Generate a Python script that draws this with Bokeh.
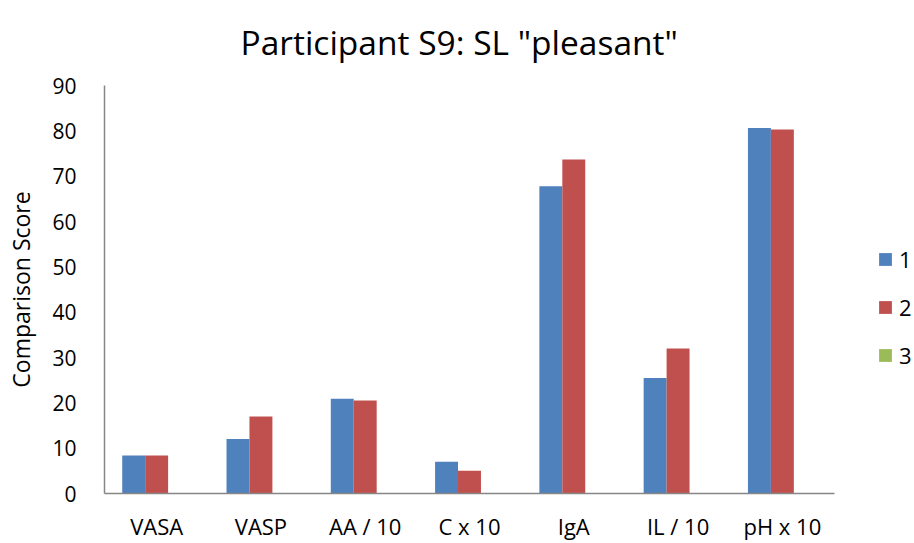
from bokeh.plotting import figure
from bokeh.models import Range1d, Legend, LegendItem, Title, FixedTicker, ColumnDataSource
from bokeh.transform import dodge
from bokeh.embed import file_html
from bokeh.resources import INLINE

categories = ["VASA", "VASP", "AA / 10", "C x 10", "IgA", "IL / 10", "pH x 10"]
series_1 = [8.4, 12.0, 20.9, 7.0, 67.8, 25.5, 80.6]
series_2 = [8.4, 17.0, 20.5, 5.0, 73.7, 32.0, 80.3]
series_3 = [None, None, None, None, None, None, None]
series_names = ["1", "2", "3"]
series_colors = ["#4F81BD", "#C0504D", "#9BBB59"]
y_ticks = [0, 10, 20, 30, 40, 50, 60, 70, 80, 90]

FONT = "Open Sans"

x_idx = list(range(len(categories)))
source = ColumnDataSource(data=dict(x=x_idx, s1=series_1, s2=series_2,
                                    s3=[float("nan") if v is None else v for v in series_3]))

# plot area: categories occupy 730 px, the frame continues 80 px further right for the legend
n = len(categories)
x_end = -0.5 + n * 810.0 / 730.0

p = figure(x_range=Range1d(-0.5, x_end),
           y_range=Range1d(0, 90),
           width=914, height=543,
           output_backend="svg", toolbar_location=None,
           min_border_left=104, min_border_right=0,
           min_border_top=85, min_border_bottom=48)

bw = 0.22
renderers = []
for col, off, color in zip(["s1", "s2", "s3"], [-bw, 0.0, bw], series_colors):
    r = p.vbar(x=dodge("x", off), top=col, bottom=0, width=bw,
               source=source, fill_color=color, line_color=None)
    renderers.append(r)

p.add_layout(Title(text='Participant S9: SL "pleasant"', align="left",
                   text_font_size="33.5px", text_font=FONT, text_font_style="normal",
                   text_color="#000000", standoff=37, offset=136,
                   vertical_align="top"), "above")

p.xgrid.grid_line_color = None
p.ygrid.grid_line_color = None
p.outline_line_color = None

ax = p.xaxis[0]
ax.ticker = FixedTicker(ticks=x_idx)
ax.major_label_overrides = {i: c for i, c in zip(x_idx, categories)}
ax.bounds = (-0.5, n - 0.5)
ax.axis_line_color = "#868686"
ax.axis_line_width = 1.5
ax.major_tick_line_color = None
ax.minor_tick_line_color = None
ax.major_tick_out = 0
ax.major_tick_in = 0
ax.major_label_standoff = 17
ax.major_label_text_font = FONT
ax.major_label_text_font_size = "22px"
ax.major_label_text_color = "#000000"

ay = p.yaxis[0]
ay.ticker = FixedTicker(ticks=y_ticks)
ay.axis_line_color = "#868686"
ay.axis_line_width = 1.5
ay.major_tick_line_color = None
ay.minor_tick_line_color = None
ay.major_tick_out = 0
ay.major_tick_in = 0
ay.major_label_standoff = 28
ay.major_label_text_font = FONT
ay.major_label_text_font_size = "21px"
ay.major_label_text_color = "#000000"
ay.axis_label = "Comparison Score"
ay.axis_label_text_font = FONT
ay.axis_label_text_font_size = "23px"
ay.axis_label_text_font_style = "normal"
ay.axis_label_text_color = "#000000"
ay.axis_label_standoff = 12

legend = Legend(items=[LegendItem(label=nm, renderers=[r]) for nm, r in zip(series_names, renderers)],
                location=(773, 123), glyph_width=16, glyph_height=16, label_standoff=6,
                spacing=18, padding=0, margin=0, border_line_color=None,
                background_fill_alpha=0, label_text_font=FONT,
                label_text_font_size="22px", label_text_color="#000000")
p.add_layout(legend)

open("out.html", "w").write(file_html(p, INLINE))
